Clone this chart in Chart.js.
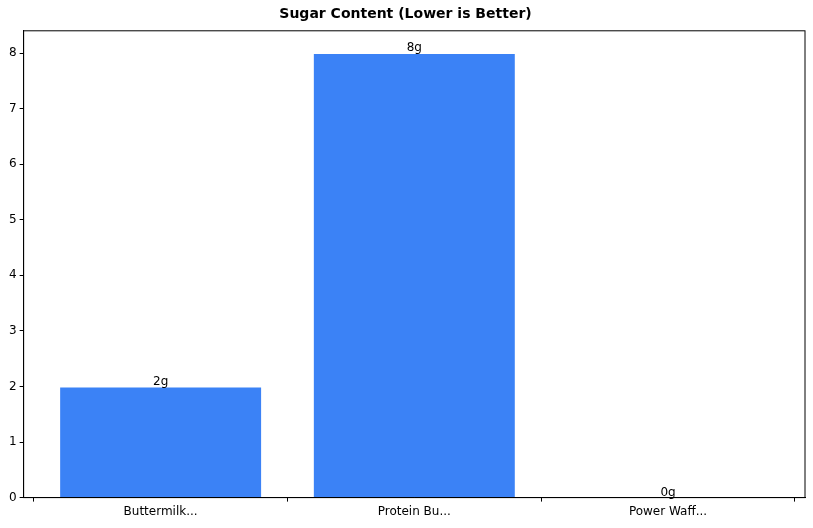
<!DOCTYPE html>
<html>
<head>
<script src="https://cdn.jsdelivr.net/npm/chart.js@4"></script>
<style>
  html, body { margin: 0; padding: 0; background: #fff; }
  #wrap { position: relative; width: 813px; height: 528px; }
</style>
</head>
<body>
<div id="wrap"><canvas id="chart"></canvas></div>
<script>
const labels = ["Buttermilk...", "Protein Bu...", "Power Waff..."];
const sugar = [2, 8, 0];
const valueLabels = ["2g", "8g", "0g"];
const yTicks = [0, 1, 2, 3, 4, 5, 6, 7, 8];

const blue = "#3b82f6";
const font = "'DejaVu Sans', sans-serif";

const barLabels = {
  id: "barLabels",
  afterDatasetsDraw(chart) {
    const ctx = chart.ctx;
    const meta = chart.getDatasetMeta(0);
    ctx.save();
    ctx.fillStyle = "#000";
    ctx.font = "12px " + font;
    ctx.textAlign = "center";
    ctx.textBaseline = "bottom";
    meta.data.forEach((bar, i) => {
      ctx.fillText(valueLabels[i], bar.x, bar.y + 1);
    });
    ctx.restore();
  }
};

const frame = {
  id: "frame",
  afterDraw(chart) {
    const a = chart.chartArea, ctx = chart.ctx;
    ctx.save();
    ctx.strokeStyle = "#000";
    ctx.lineWidth = 1;
    ctx.strokeRect(a.left, a.top, a.right - a.left, a.bottom - a.top);
    ctx.restore();
  }
};

const axisGrid = { display: true, drawOnChartArea: false, drawTicks: true, tickLength: 4, color: "#000" };

new Chart(document.getElementById("chart"), {
  type: "bar",
  data: {
    datasets: [{
      data: sugar.map((v, i) => ({ x: i, y: v })),
      backgroundColor: blue,
      borderColor: "#ffffff",
      borderWidth: 1,
      barPercentage: 0.8,
      categoryPercentage: 1
    }]
  },
  options: {
    responsive: true,
    maintainAspectRatio: false,
    animation: false,
    layout: { padding: { top: 4, right: 8, bottom: 6, left: 6 } },
    plugins: {
      legend: { display: false },
      tooltip: { enabled: false },
      title: {
        display: true,
        text: "Sugar Content (Lower is Better)",
        color: "#000",
        font: { family: font, size: 14, weight: "bold" },
        padding: { top: 2, bottom: 8 }
      }
    },
    scales: {
      x: {
        type: "linear",
        offset: false,
        min: -0.54,
        max: 2.54,
        grid: axisGrid,
        border: { color: "#000" },
        afterBuildTicks(axis) { axis.ticks = labels.map((_, i) => ({ value: i })); },
        ticks: {
          color: "#000",
          font: { family: font, size: 12 },
          callback: (v) => labels[v] ?? ""
        }
      },
      y: {
        min: 0,
        max: 8.4,
        grid: axisGrid,
        border: { color: "#000" },
        afterBuildTicks(axis) { axis.ticks = yTicks.map(v => ({ value: v })); },
        ticks: { color: "#000", font: { family: font, size: 12 } }
      }
    }
  },
  plugins: [barLabels, frame]
});
</script>
</body>
</html>
